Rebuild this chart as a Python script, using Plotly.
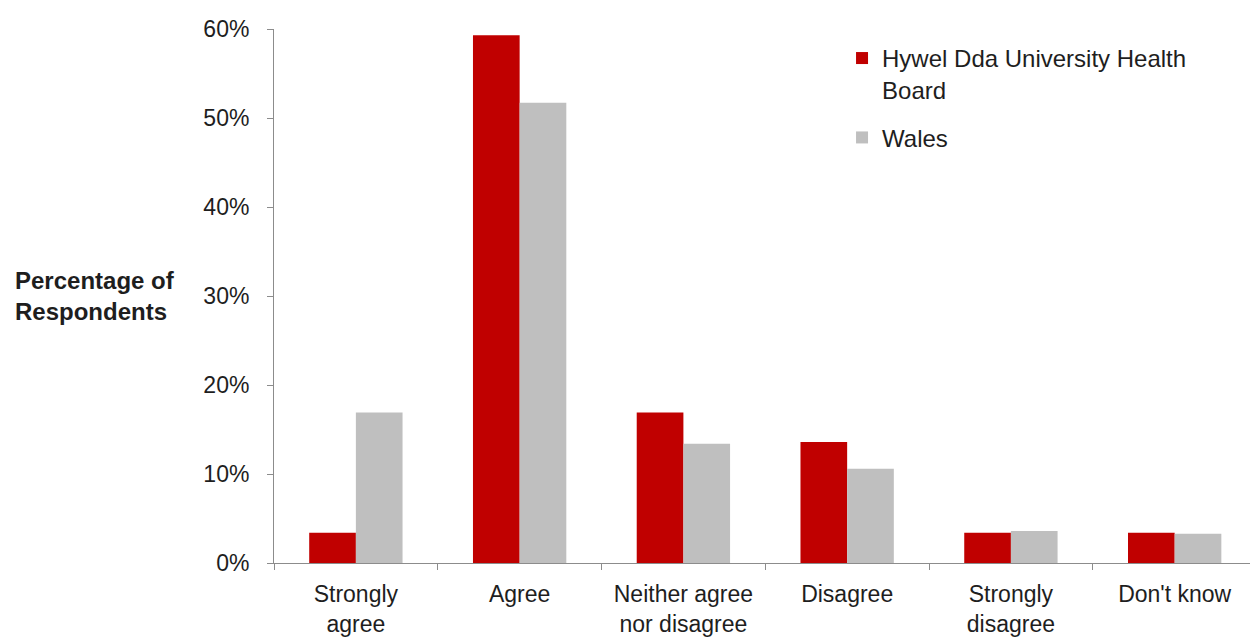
import plotly.graph_objects as go

categories = ["Strongly<br>agree", "Agree", "Neither agree<br>nor disagree",
              "Disagree", "Strongly<br>disagree", "Don't know"]
hywel_dda = [3.4, 59.3, 16.9, 13.6, 3.4, 3.4]
wales = [16.9, 51.7, 13.4, 10.6, 3.6, 3.3]
y_ticks = [0, 10, 20, 30, 40, 50, 60]

FONT = "Liberation Sans, Arial, sans-serif"
RED = "#c00000"
GREY = "#bfbfbf"
TEXT = "#1e1e1e"

fig = go.Figure()
fig.add_trace(go.Bar(x=categories, y=hywel_dda, name="Hywel Dda University Health<br>Board",
                     legendgroup="hd", marker_color=RED, marker_line_width=0))
fig.add_trace(go.Bar(x=categories, y=wales, name="Wales",
                     legendgroup="wa", marker_color=GREY, marker_line_width=0))

fig.update_layout(
    width=1250, height=637,
    margin=dict(l=274, r=0, t=29, b=74),
    paper_bgcolor="white", plot_bgcolor="white",
    barmode="group", bargap=0.43, bargroupgap=0,
    font=dict(family=FONT, size=23, color=TEXT),
    legend=dict(x=0.582, y=0.987, xanchor="left", yanchor="top",
                font=dict(size=24, color=TEXT), valign="top",
                tracegroupgap=14, itemwidth=30, bgcolor="rgba(0,0,0,0)"),
    xaxis=dict(range=[-0.5, 5.46], showline=True, linecolor="#8c8c8c", linewidth=1,
               ticks="outside", tickson="boundaries", ticklen=6, tickcolor="#8c8c8c",
               showgrid=False, tickfont=dict(size=23, color=TEXT),
               ticklabelstandoff=10),
    yaxis=dict(range=[0, 60], tickvals=y_ticks, ticktext=[f"{v}%" for v in y_ticks],
               showline=True, linecolor="#8c8c8c", linewidth=1,
               ticks="outside", ticklen=6, tickcolor="#8c8c8c",
               showgrid=False, zeroline=False, tickfont=dict(size=23, color=TEXT),
               ticklabelstandoff=13),
)

fig.add_annotation(text="<b>Percentage of<br>Respondents</b>", xref="paper", yref="paper",
                   x=-0.267, y=0.5, xanchor="left", yanchor="middle", showarrow=False,
                   align="left", font=dict(size=24, color=TEXT, family=FONT))

fig.write_html("out.html")
